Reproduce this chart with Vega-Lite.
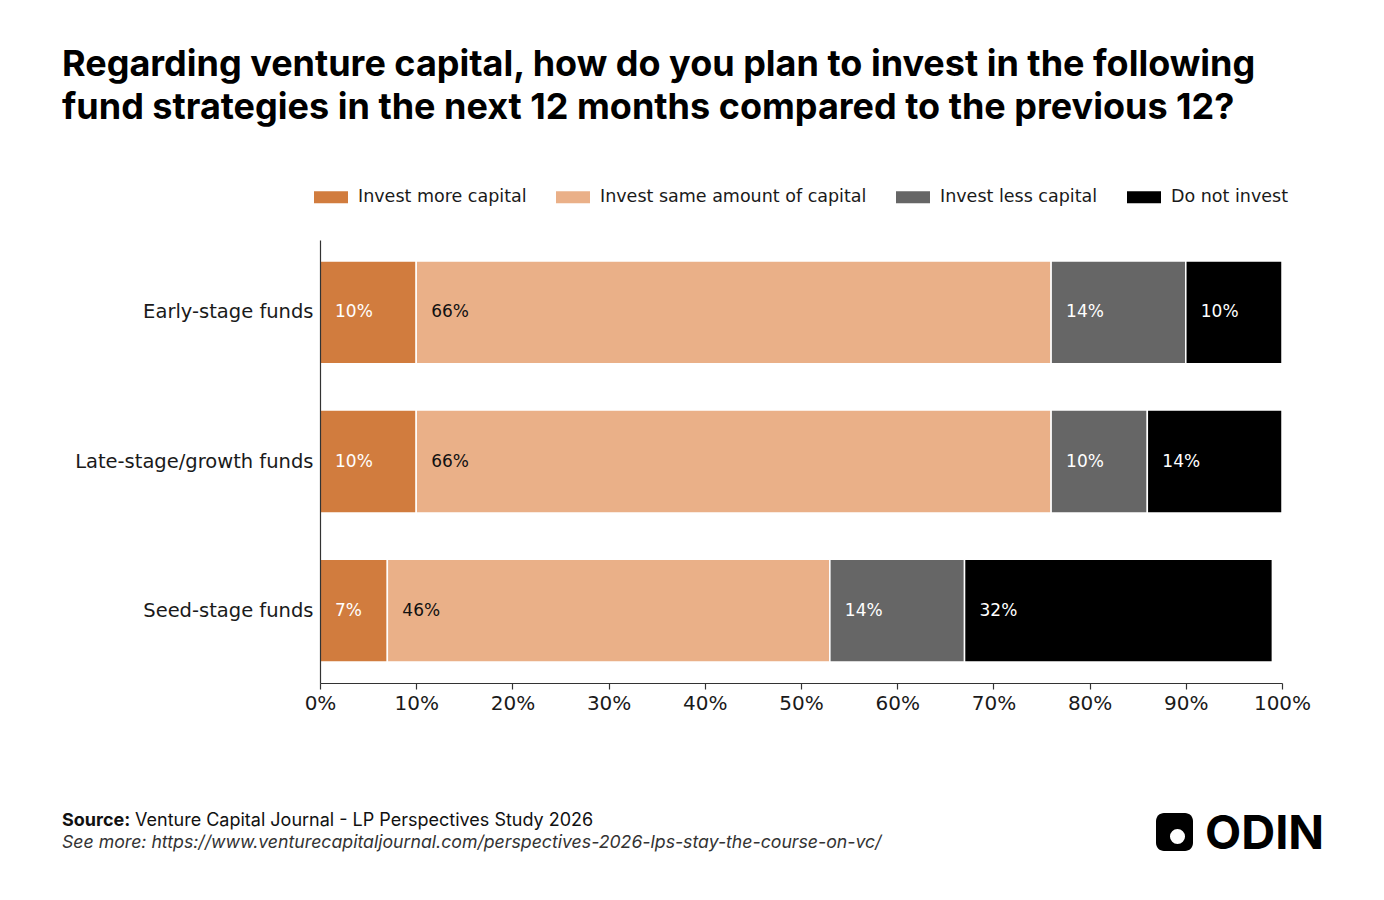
{
  "$schema": "https://vega.github.io/schema/vega-lite/v6.json",
  "autosize": {"type": "none"},
  "width": 962,
  "height": 443,
  "padding": {"left": 320, "top": 240, "right": 102, "bottom": 217},
  "background": "white",
  "title": {
    "text": ["Regarding venture capital, how do you plan to invest in the following", "fund strategies in the next 12 months compared to the previous 12?"],
    "font": "Inter",
    "fontSize": 36,
    "fontWeight": "bold",
    "color": "#000000",
    "anchor": "start",
    "frame": "group",
    "dx": -258,
    "lineHeight": 43,
    "offset": 53
  },
  "datasets": {
    "main": [
      {"fund": "Early-stage funds", "category": "Invest more capital", "order": 1, "value": 0.10},
      {"fund": "Early-stage funds", "category": "Invest same amount of capital", "order": 2, "value": 0.66},
      {"fund": "Early-stage funds", "category": "Invest less capital", "order": 3, "value": 0.14},
      {"fund": "Early-stage funds", "category": "Do not invest", "order": 4, "value": 0.10},
      {"fund": "Late-stage/growth funds", "category": "Invest more capital", "order": 1, "value": 0.10},
      {"fund": "Late-stage/growth funds", "category": "Invest same amount of capital", "order": 2, "value": 0.66},
      {"fund": "Late-stage/growth funds", "category": "Invest less capital", "order": 3, "value": 0.10},
      {"fund": "Late-stage/growth funds", "category": "Do not invest", "order": 4, "value": 0.14},
      {"fund": "Seed-stage funds", "category": "Invest more capital", "order": 1, "value": 0.07},
      {"fund": "Seed-stage funds", "category": "Invest same amount of capital", "order": 2, "value": 0.46},
      {"fund": "Seed-stage funds", "category": "Invest less capital", "order": 3, "value": 0.14},
      {"fund": "Seed-stage funds", "category": "Do not invest", "order": 4, "value": 0.32}
    ],
    "note": [{"source": "Source:", "rest": "Venture Capital Journal - LP Perspectives Study 2026", "more": "See more: https://www.venturecapitaljournal.com/perspectives-2026-lps-stay-the-course-on-vc/", "brand": "ODIN"}]
  },
  "layer": [
    {
      "data": {"name": "main"},
      "transform": [{"stack": "value", "groupby": ["fund"], "sort": [{"field": "order", "order": "ascending"}], "as": ["x0", "x1"]}],
      "mark": {"type": "bar", "stroke": "white", "strokeWidth": 1.5},
      "encoding": {
        "y": {
          "field": "fund", "type": "nominal",
          "sort": ["Early-stage funds", "Late-stage/growth funds", "Seed-stage funds"],
          "scale": {"paddingInner": 0.31, "paddingOuter": 0.14},
          "axis": {"title": null, "ticks": false, "zindex": 1, "domainColor": "#333333", "domainWidth": 1.2, "labelFont": "DejaVu Sans", "labelFontSize": 19.5, "labelColor": "#1a1a1a", "labelPadding": 7, "labelLimit": 400}
        },
        "x": {
          "field": "x0", "type": "quantitative",
          "scale": {"domain": [0, 1], "nice": false, "zero": true},
          "axis": {"title": null, "format": ".0%", "values": [0, 0.1, 0.2, 0.3, 0.4, 0.5, 0.6, 0.7, 0.8, 0.9, 1], "grid": false, "zindex": 1, "tickSize": 6, "tickColor": "#333333", "domainColor": "#333333", "domainWidth": 1.2, "tickWidth": 1.2, "labelFont": "DejaVu Sans", "labelFontSize": 20, "labelColor": "#1a1a1a", "labelPadding": 4, "labelFlush": false}
        },
        "x2": {"field": "x1"},
        "color": {
          "field": "category", "type": "nominal",
          "scale": {"domain": ["Invest more capital", "Invest same amount of capital", "Invest less capital", "Do not invest"], "range": ["#D17C3E", "#EAB088", "#666666", "#000000"]},
          "legend": {
            "title": null, "orient": "none", "direction": "horizontal", "legendX": -6, "legendY": -60,
            "symbolType": "M-1,-0.35L1,-0.35L1,0.35L-1,0.35Z", "symbolSize": 1156, "symbolStrokeWidth": 0, "symbolOpacity": 1,
            "labelFont": "DejaVu Sans", "labelFontSize": 17.5, "labelColor": "#1a1a1a", "labelOffset": 10, "columnPadding": 29, "labelLimit": 400
          }
        },
        "order": {"field": "order"}
      }
    },
    {
      "data": {"name": "main"},
      "transform": [{"stack": "value", "groupby": ["fund"], "sort": [{"field": "order", "order": "ascending"}], "as": ["x0", "x1"]}],
      "mark": {"type": "text", "align": "left", "baseline": "middle", "dx": 15, "font": "DejaVu Sans", "fontSize": 17},
      "encoding": {
        "y": {"field": "fund", "type": "nominal", "sort": ["Early-stage funds", "Late-stage/growth funds", "Seed-stage funds"]},
        "x": {"field": "x0", "type": "quantitative"},
        "text": {"field": "value", "type": "quantitative", "format": ".0%"},
        "color": {"condition": {"test": "datum.category === 'Invest same amount of capital'", "value": "#111111"}, "value": "#ffffff"}
      }
    },
    {
      "data": {"name": "note"},
      "mark": {"type": "text", "align": "left", "baseline": "alphabetic", "font": "Inter", "fontSize": 18, "fontWeight": "bold", "color": "#111111"},
      "encoding": {"text": {"field": "source"}, "x": {"value": -258}, "y": {"value": 586}}
    },
    {
      "data": {"name": "note"},
      "mark": {"type": "text", "align": "left", "baseline": "alphabetic", "font": "Inter", "fontSize": 18, "color": "#111111"},
      "encoding": {"text": {"field": "rest"}, "x": {"value": -185}, "y": {"value": 586}}
    },
    {
      "data": {"name": "note"},
      "mark": {"type": "text", "align": "left", "baseline": "alphabetic", "font": "Inter", "fontSize": 17.7, "fontStyle": "italic", "color": "#333333"},
      "encoding": {"text": {"field": "more"}, "x": {"value": -258}, "y": {"value": 608}}
    },
    {
      "data": {"name": "note"},
      "mark": {"type": "rect", "cornerRadius": 8, "color": "#000000"},
      "encoding": {"x": {"value": 836}, "x2": {"value": 873}, "y": {"value": 573}, "y2": {"value": 611}}
    },
    {
      "data": {"name": "note"},
      "mark": {"type": "point", "shape": "circle", "filled": true, "color": "#ffffff", "opacity": 1, "size": 227, "strokeWidth": 0},
      "encoding": {"x": {"value": 857.5}, "y": {"value": 596.5}}
    },
    {
      "data": {"name": "note"},
      "mark": {"type": "text", "align": "left", "baseline": "alphabetic", "font": "Inter", "fontSize": 47, "fontWeight": "bold", "color": "#000000", "letterSpacing": -1.5},
      "encoding": {"text": {"field": "brand"}, "x": {"value": 885}, "y": {"value": 609}}
    }
  ],
  "config": {"view": {"stroke": null}}
}
